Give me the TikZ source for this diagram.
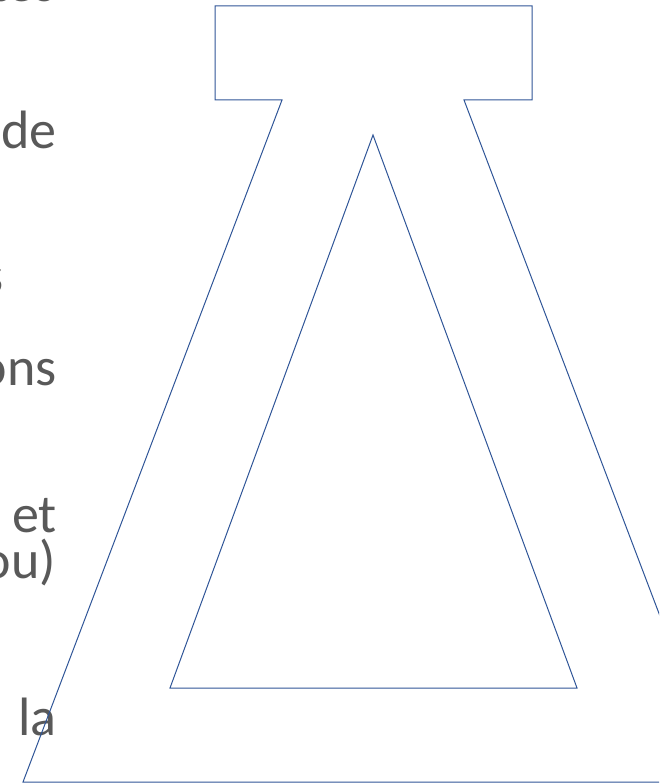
\documentclass[tikz,border=0pt]{standalone}
\usepackage{fontspec}
\setmainfont{Carlito}
\usetikzlibrary{positioning}
\definecolor{flaskblue}{HTML}{2F5597}
\definecolor{textgray}{HTML}{595959}

\begin{document}
\begin{tikzpicture}[
  x=1pt, y=-1pt,
  outline/.style={draw=flaskblue, line width=1pt, line join=miter},
  cuttext/.style={anchor=base east, inner sep=0pt, text=textgray, font=\fontsize{54}{64}\selectfont},
]
\useasboundingbox (0,0) rectangle (659,783);
\clip (0,0) rectangle (659,783);

% === CUT-OFF TEXT ON THE LEFT ===
\node[cuttext] (tes) at (56, 2) {tes};
\node[cuttext] (de)  at (57, 149) {de};
\node[cuttext] (s)   at (4, 293) {s};
\node[cuttext] (ons) at (57, 385) {ons};
\node[cuttext] (et)  at (57, 532) {et};
\node[cuttext] (ou)  at (56, 578) {ou)};
\node[cuttext] (la)  at (57, 735) {la};

% === FLASK OUTLINE ===
\draw[outline] (282,100) -- (215,100) -- (215,6) -- (532,6) -- (532,100) -- (464,100)
  -- (723,782) -- (23,782) -- cycle;

% === INNER TRIANGLE ===
\draw[outline] (373,135) -- (577,688) -- (170,688) -- cycle;
\end{tikzpicture}
\end{document}
